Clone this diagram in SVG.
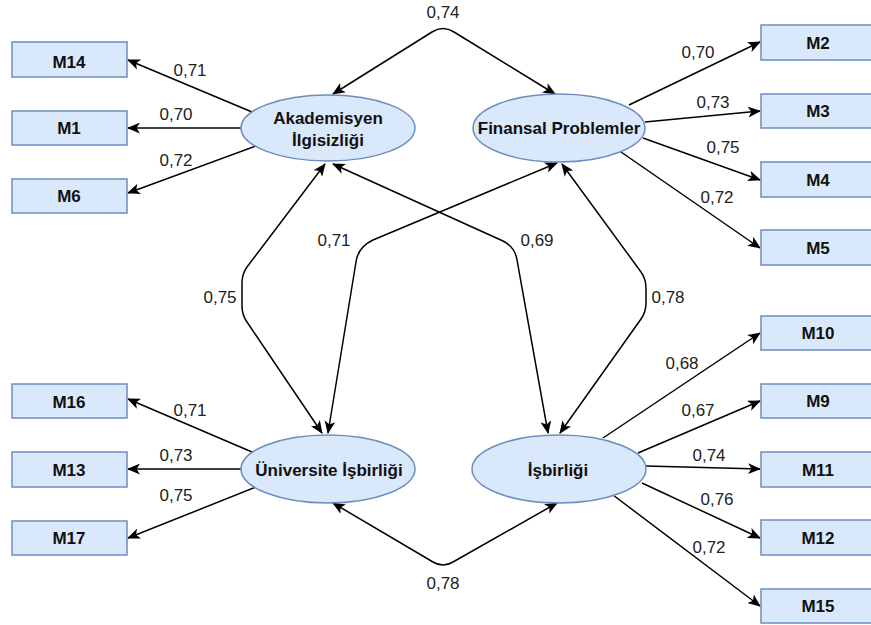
<svg xmlns="http://www.w3.org/2000/svg" width="871" height="625" viewBox="0 0 871 625">
<style>
.box{fill:#dae8fc;stroke:#6c8ebf;stroke-width:1.5}
.lat{fill:#dae8fc;stroke:#6c8ebf;stroke-width:1.5}
.bt{font-family:"Liberation Sans",Arial,sans-serif;font-size:17px;font-weight:bold;fill:#111;text-anchor:middle}
.lb{font-family:"Liberation Sans",Arial,sans-serif;font-size:17px;fill:#222;text-anchor:middle}
.c{fill:none;stroke:#000;stroke-width:1.5;marker-end:url(#ah)}
.d{fill:none;stroke:#000;stroke-width:1.5;marker-end:url(#ah);marker-start:url(#ah)}
</style>
<defs>
<marker id="ah" viewBox="0 0 12 10" refX="11" refY="5" markerWidth="13" markerHeight="11" markerUnits="userSpaceOnUse" orient="auto-start-reverse">
<path d="M0,0 L12,5 L0,10 L3,5 Z" fill="#000"/>
</marker>
</defs>
<rect width="871" height="625" fill="#fff"/>
<g id="connectors">
<path class="c" d="M252,112 L128,60"/>
<path class="c" d="M242,128 L128,128"/>
<path class="c" d="M256,146 L128,193"/>
<path class="c" d="M629,105 L760,42"/>
<path class="c" d="M645,122 L760,111"/>
<path class="c" d="M643,138 L760,180"/>
<path class="c" d="M621,152 L760,248"/>
<path class="c" d="M252,452 L128,399"/>
<path class="c" d="M242,469 L128,469"/>
<path class="c" d="M256,487 L128,538"/>
<path class="c" d="M603,438 L760,333"/>
<path class="c" d="M638,453 L760,401"/>
<path class="c" d="M646,466 L760,469"/>
<path class="c" d="M642,483 L760,538"/>
<path class="c" d="M613,495 L760,606"/>
<path class="d" d="M333,94 L432,32 Q443,25 454,32 L555,94"/>
<path class="d" d="M325,164 L247,267 Q242,274 242,283 L242,306 Q242,315 247,322 L322,433"/>
<path class="d" d="M333,164 L503,241 Q515,247 517,260 L548,433"/>
<path class="d" d="M557,163 L373,240 Q358,247 356,262 L328,433"/>
<path class="d" d="M562,164 L641,272 Q646,279 646,288 L646,303 Q646,312 641,319 L560,433"/>
<path class="d" d="M333,503 L433,562 Q443,568 453,562 L557,503"/>
<text class="lb" x="443" y="18">0,74</text>
<text class="lb" x="220" y="303">0,75</text>
<text class="lb" x="334" y="246">0,71</text>
<text class="lb" x="537" y="246">0,69</text>
<text class="lb" x="668" y="303">0,78</text>
<text class="lb" x="443" y="589">0,78</text>
<text class="lb" x="190" y="76">0,71</text>
<text class="lb" x="176" y="120">0,70</text>
<text class="lb" x="176" y="166">0,72</text>
<text class="lb" x="698" y="58">0,70</text>
<text class="lb" x="713" y="108">0,73</text>
<text class="lb" x="723" y="153">0,75</text>
<text class="lb" x="717" y="203">0,72</text>
<text class="lb" x="190" y="416">0,71</text>
<text class="lb" x="176" y="461">0,73</text>
<text class="lb" x="176" y="501">0,75</text>
<text class="lb" x="682" y="369">0,68</text>
<text class="lb" x="698" y="416">0,67</text>
<text class="lb" x="709" y="461">0,74</text>
<text class="lb" x="717" y="505">0,76</text>
<text class="lb" x="709" y="553">0,72</text>
</g>
<g id="akademisyen"><ellipse class="lat" cx="328" cy="128" rx="87" ry="33"/><text class="bt" x="328" y="124">Akademisyen</text><text class="bt" x="328" y="146">İlgisizliği</text></g>
<g id="finansal"><ellipse class="lat" cx="559" cy="128" rx="86" ry="34"/><text class="bt" x="559" y="134">Finansal Problemler</text></g>
<g id="universite"><ellipse class="lat" cx="328" cy="469" rx="87" ry="34"/><text class="bt" x="329" y="476">Üniversite İşbirliği</text></g>
<g id="isbirligi"><ellipse class="lat" cx="559" cy="469" rx="87" ry="34"/><text class="bt" x="558" y="476">İşbirliği</text></g>
<g id="M14"><rect class="box" x="12" y="42" width="115" height="35"/><text class="bt" x="69" y="68">M14</text></g>
<g id="M1"><rect class="box" x="12" y="111" width="115" height="34"/><text class="bt" x="69" y="134">M1</text></g>
<g id="M6"><rect class="box" x="12" y="179" width="115" height="34"/><text class="bt" x="69" y="202">M6</text></g>
<g id="M16"><rect class="box" x="12" y="384" width="115" height="34"/><text class="bt" x="69" y="408">M16</text></g>
<g id="M13"><rect class="box" x="12" y="452" width="115" height="35"/><text class="bt" x="69" y="476">M13</text></g>
<g id="M17"><rect class="box" x="12" y="521" width="115" height="34"/><text class="bt" x="69" y="544">M17</text></g>
<g id="M2"><rect class="box" x="761" y="25" width="115" height="35"/><text class="bt" x="818" y="49">M2</text></g>
<g id="M3"><rect class="box" x="761" y="94" width="115" height="34"/><text class="bt" x="818" y="117">M3</text></g>
<g id="M4"><rect class="box" x="761" y="162" width="115" height="35"/><text class="bt" x="818" y="186">M4</text></g>
<g id="M5"><rect class="box" x="761" y="230" width="115" height="35"/><text class="bt" x="818" y="254">M5</text></g>
<g id="M10"><rect class="box" x="761" y="316" width="115" height="34"/><text class="bt" x="818" y="339">M10</text></g>
<g id="M9"><rect class="box" x="761" y="384" width="115" height="34"/><text class="bt" x="818" y="407">M9</text></g>
<g id="M11"><rect class="box" x="761" y="452" width="115" height="35"/><text class="bt" x="818" y="476">M11</text></g>
<g id="M12"><rect class="box" x="761" y="520" width="115" height="35"/><text class="bt" x="818" y="544">M12</text></g>
<g id="M15"><rect class="box" x="761" y="589" width="115" height="34"/><text class="bt" x="818" y="612">M15</text></g>
</svg>
